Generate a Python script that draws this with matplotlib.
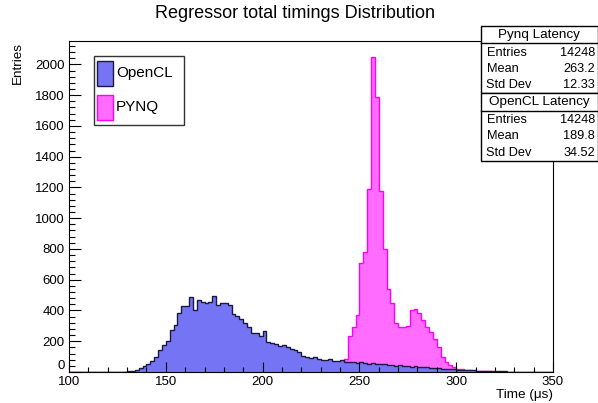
import numpy as np
import matplotlib
matplotlib.use("Agg")
import matplotlib.pyplot as plt
from matplotlib.patches import Rectangle
from matplotlib.lines import Line2D

# ─────────────────────────────────────────────
# DATA  (2 us bins, counts)
# ─────────────────────────────────────────────
BIN_LO, BIN_HI, BIN_W = 100, 350, 2

opencl_first_bin = 130
opencl_counts = [4, 6, 15, 28, 40, 55, 70, 95, 140, 175,
                 200, 273, 305, 381, 429, 429, 489, 400, 468, 457,
                 446, 457, 494, 435, 446, 446, 435, 377, 364, 342,
                 316, 294, 256, 256, 234, 268, 197, 191, 180, 172,
                 176, 160, 150, 143, 128, 105, 98, 92, 96, 85,
                 80, 78, 82, 74, 70, 76, 66, 64, 68, 60,
                 62, 58, 55, 60, 52, 50, 54, 46, 48, 42,
                 44, 38, 40, 35, 36, 32, 30, 33, 28, 26,
                 27, 22, 20, 18, 17, 15, 13, 14, 11, 10,
                 9, 8, 7, 6, 6, 5, 4, 4, 3, 3,
                 2, 2, 2, 1, 1, 1]

pynq_first_bin = 232
pynq_counts = [2, 3, 5, 10, 25, 85, 235, 290, 370, 710,
               780, 1190, 2050, 1790, 1180, 800, 540, 450, 316, 294,
               294, 296, 403, 408, 383, 338, 294, 262, 212, 164,
               99, 67, 45, 30, 22, 17, 12, 10, 8, 7,
               6, 5, 4, 3, 3, 2, 2, 1]

legend_labels = ["OpenCL", "PYNQ"]
stat_boxes = [
    ("Pynq Latency", [("Entries", "14248"), ("Mean", "263.2"), ("Std Dev", "12.33")]),
    ("OpenCL Latency", [("Entries", "14248"), ("Mean", "189.8"), ("Std Dev", "34.52")]),
]

BLUE_FILL, BLUE_EDGE = "#7474f4", "#1a1a40"
PINK_FILL, PINK_EDGE = "#ff6cff", "#ff00ff"

W, H = 598, 403
plt.rcParams["font.family"] = ["Liberation Sans", "DejaVu Sans"]


def fx(px):
    return px / W


def fy(py):
    return 1 - py / H


def full_hist(first_bin, counts):
    edges = np.arange(BIN_LO, BIN_HI + BIN_W, BIN_W)
    vals = np.zeros(len(edges) - 1)
    i0 = (first_bin - BIN_LO) // BIN_W
    vals[i0:i0 + len(counts)] = counts
    return edges, vals


fig = plt.figure(figsize=(W / 100, H / 100), dpi=100)
ax = fig.add_axes([fx(69), fy(372), (553 - 69) / W, (372 - 41) / H])

# pynq first, opencl drawn on top of it
e, v = full_hist(pynq_first_bin, pynq_counts)
ax.stairs(v, e, fill=True, color=PINK_FILL, baseline=0)
ax.stairs(v, e, color=PINK_EDGE, linewidth=1.0, baseline=0)

e, v = full_hist(opencl_first_bin, opencl_counts)
ax.stairs(v, e, fill=True, color=BLUE_FILL, baseline=0)
ax.stairs(v, e, color=BLUE_EDGE, linewidth=1.0, baseline=0)

ax.set_xlim(100, 350)
ax.set_ylim(0, 2152)
ax.set_xticks(np.arange(100, 351, 50))
ax.set_xticks(np.arange(100, 351, 10), minor=True)
ax.set_yticks(np.arange(0, 2001, 200))
ax.set_yticks(np.arange(0, 2152, 40), minor=True)
ax.tick_params(axis="both", which="both", direction="in", top=False, right=False,
               labelsize=9.5, pad=3, width=0.8, color="black")
ax.tick_params(axis="y", which="major", length=8.6)
ax.tick_params(axis="y", which="minor", length=4.3)
ax.tick_params(axis="x", which="major", length=7.2)
ax.tick_params(axis="x", which="minor", length=3.6)
for s in ax.spines.values():
    s.set_linewidth(0.8)

# ROOT puts the "0" a bit above the x labels
ax.get_yticklabels()[0].set_verticalalignment("bottom")

# titles
fig.text(fx(295), fy(14), "Regressor total timings Distribution", ha="center", va="center", fontsize=13)
fig.text(fx(553), fy(395), "Time (μs)", ha="right", va="center", fontsize=9.7)
fig.text(fx(18), fy(42), "Entries", ha="center", va="top", rotation=90, fontsize=9.7)

# legend box
fig.add_artist(Rectangle((fx(94), fy(124.5)), (184 - 94) / W, (124.5 - 56.5) / H,
                         transform=fig.transFigure, facecolor="white", edgecolor="#333333", linewidth=1))
for (y0, y1), lab, fc, ec in zip([(61, 86), (95, 120)], legend_labels,
                                 [BLUE_FILL, PINK_FILL], [BLUE_EDGE, PINK_EDGE]):
    fig.add_artist(Rectangle((fx(97), fy(y1)), 15.5 / W, (y1 - y0) / H,
                             transform=fig.transFigure, facecolor=fc, edgecolor=ec, linewidth=1))
    fig.text(fx(116), fy((y0 + y1) / 2), lab, ha="left", va="center", fontsize=11)

# stat boxes
box_x0, box_x1 = 480.5, 597.5
box_tops = [26, 93.3]
box_h = 67.3
for top, (name, rows) in zip(box_tops, stat_boxes):
    fig.add_artist(Rectangle((fx(box_x0), fy(top + box_h)), (box_x1 - box_x0) / W, box_h / H,
                             transform=fig.transFigure, facecolor="white", edgecolor="black", linewidth=1))
    fig.add_artist(Line2D([fx(box_x0), fx(box_x1)], [fy(top + 17.3), fy(top + 17.3)],
                          transform=fig.transFigure, color="black", linewidth=1))
    fig.text(fx((box_x0 + box_x1) / 2), fy(top + 9), name, ha="center", va="center", fontsize=9.7)
    for k, (lab, val) in enumerate(rows):
        yy = top + 26.5 + k * 16.5
        fig.text(fx(486.5), fy(yy), lab, ha="left", va="center", fontsize=9.2)
        fig.text(fx(595), fy(yy), val, ha="right", va="center", fontsize=9.2)

fig.savefig("out.png", dpi=100)
